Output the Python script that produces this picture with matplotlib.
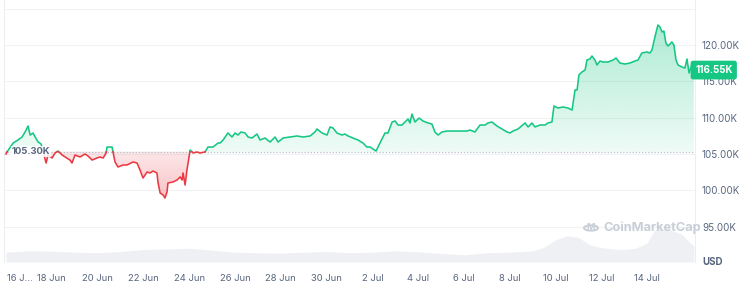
import numpy as np
import matplotlib
matplotlib.use("Agg")
import matplotlib.pyplot as plt
import matplotlib.transforms as mtransforms
from matplotlib.path import Path
from matplotlib.patches import Circle
from matplotlib.colors import to_rgb

plt.rcParams['font.family'] = ['Inter', 'DejaVu Sans']

# ---- data (days since 16 Jun 00:00, price in thousand USD) ----
days = [0.00, 0.04, 0.31, 0.52, 0.70, 0.83, 0.96, 1.05, 1.18, 1.27, 1.40, 1.53, 1.62, 1.75, 1.83,
        2.01, 2.14, 2.27, 2.45, 2.58, 2.79, 2.88, 3.01, 3.23, 3.45, 3.58, 3.76, 3.97, 4.10, 4.24,
        4.37, 4.41, 4.63, 4.67, 4.76, 4.89, 5.11, 5.28, 5.55, 5.72, 5.85, 5.98, 6.16, 6.29, 6.42,
        6.59, 6.64, 6.73, 6.86, 6.94, 7.03, 7.07, 7.29, 7.47, 7.60, 7.69, 7.73, 7.82, 7.90, 7.95,
        8.04, 8.17, 8.34, 8.47, 8.69, 8.82, 9.04, 9.26, 9.35, 9.48, 9.69, 9.87, 10.00, 10.13, 10.26,
        10.44, 10.57, 10.74, 10.96, 11.09, 11.31, 11.53, 11.75, 11.88, 12.10, 12.40, 12.71, 12.97,
        13.28, 13.49, 13.58, 13.80, 14.02, 14.15, 14.28, 14.45, 14.67, 14.80, 14.94, 15.15, 15.37,
        15.59, 15.76, 15.90, 16.03, 16.16, 16.33, 16.55, 16.68, 16.86, 16.99, 17.12, 17.29, 17.42,
        17.56, 17.64, 17.73, 17.86, 18.04, 18.21, 18.43, 18.60, 18.73, 18.87, 19.04, 19.26, 19.52,
        19.83, 20.13, 20.26, 20.48, 20.70, 20.92, 21.05, 21.22, 21.44, 21.66, 21.88, 22.01, 22.14,
        22.36, 22.67, 22.80, 22.97, 23.10, 23.32, 23.54, 23.67, 23.84, 23.93, 24.11, 24.32, 24.54,
        24.72, 24.85, 24.94, 25.02, 25.15, 25.29, 25.37, 25.50, 25.59, 25.72, 25.81, 25.94, 26.07,
        26.29, 26.51, 26.64, 26.81, 27.03, 27.25, 27.47, 27.60, 27.77, 27.99, 28.12, 28.21, 28.34,
        28.47, 28.56, 28.65, 28.73, 28.82, 28.91, 29.08, 29.17, 29.26, 29.35, 29.52, 29.65, 29.74,
        29.83, 29.96, 30.04]
price = [105.00, 105.28, 106.51, 106.93, 107.34, 108.03, 108.85, 107.61, 107.89, 107.34, 106.65,
         106.38, 105.28, 103.76, 104.86, 104.45, 105.14, 105.41, 104.86, 104.59, 104.17, 103.76,
         104.86, 104.59, 105.00, 104.72, 104.17, 104.45, 104.59, 104.45, 105.14, 105.96, 105.96,
         105.28, 103.90, 103.21, 103.49, 103.49, 103.90, 103.76, 102.80, 101.70, 102.52, 102.39,
         102.66, 102.39, 101.01, 99.63, 99.36, 98.95, 99.77, 101.01, 101.15, 101.42, 101.84, 101.42,
         102.39, 100.73, 102.80, 103.76, 105.55, 105.14, 105.28, 105.14, 105.28, 105.96, 105.96,
         106.51, 106.51, 106.93, 107.89, 107.34, 107.89, 107.61, 108.03, 107.89, 107.34, 107.20,
         107.75, 106.93, 107.20, 106.65, 107.34, 106.65, 107.20, 107.34, 107.48, 107.34, 107.48,
         108.03, 108.44, 107.89, 107.61, 108.72, 108.58, 107.89, 107.61, 107.75, 107.48, 107.20,
         106.93, 106.51, 105.96, 105.96, 105.69, 105.41, 106.51, 107.89, 107.89, 109.40, 109.54,
         108.99, 108.99, 109.40, 109.82, 109.27, 110.50, 109.40, 109.95, 109.54, 109.27, 109.13,
         108.03, 107.61, 108.03, 108.16, 108.16, 108.16, 108.16, 108.30, 108.03, 108.99, 108.99,
         109.27, 109.40, 108.85, 108.44, 108.03, 107.89, 108.16, 108.44, 109.27, 108.72, 109.27,
         108.72, 108.99, 108.99, 109.27, 109.40, 111.60, 111.33, 111.47, 111.33, 111.05, 113.81,
         113.81, 115.87, 116.28, 116.56, 117.93, 118.07, 118.48, 117.93, 117.25, 117.80, 117.66,
         117.66, 117.93, 118.21, 117.52, 117.38, 117.52, 117.80, 117.93, 118.90, 119.04, 118.90,
         119.31, 121.10, 122.75, 122.48, 121.79, 121.92, 120.27, 119.86, 120.41, 120.00, 117.93,
         117.25, 116.97, 116.83, 118.07, 116.15, 117.38, 116.55]

baseline = 105.30
current = 116.55

vol_days = [0, 1, 2, 3, 4, 5, 6, 7, 8, 9, 10, 11, 12, 13, 14, 15, 16, 17, 18, 19, 20, 21, 22, 23,
            23.5, 24, 24.5, 25, 25.5, 26, 26.5, 27, 27.5, 28, 28.3, 28.6, 29, 29.5, 30.04]
volume = [30, 34, 33, 30, 28, 32, 38, 40, 42, 36, 30, 28, 27, 30, 32, 28, 30, 34, 31, 26, 22, 28,
          30, 34, 45, 68, 80, 75, 52, 44, 40, 38, 42, 58, 95, 102, 98, 85, 48]

yticks = [95, 100, 105, 110, 115, 120]
xtick_days = [2, 4, 6, 8, 10, 12, 14, 16, 18, 20, 22, 24, 26, 28]
xtick_labels = ["18 Jun", "20 Jun", "22 Jun", "24 Jun", "26 Jun", "28 Jun", "30 Jun",
                "2 Jul", "4 Jul", "6 Jul", "8 Jul", "10 Jul", "12 Jul", "14 Jul"]

GREEN = "#16c784"
RED = "#ea3943"
TXT = "#58667e"

W, H = 741, 282
fig = plt.figure(figsize=(W / 100, H / 100), dpi=100)
ax = fig.add_axes([4 / W, 20 / H, 691 / W, 262 / H])
ax.set_xlim(-0.09, 30.09)
ax.set_ylim(90.14, 126.19)

# volume on twin axis
axv = ax.twinx()
axv.set_ylim(0, 800)
axv.fill_between(vol_days, volume, 0, color="#eef0f4", lw=0, zorder=0)
axv.set_yticks([])
for s in axv.spines.values():
    s.set_visible(False)
ax.set_zorder(axv.get_zorder() + 1)
ax.patch.set_visible(False)

# grid
for v in yticks + [125]:
    ax.axhline(v, color="#f1f2f4", lw=0.8, zorder=0)

# insert crossing points
t = np.array(days, float)
p = np.array(price, float)
tt, pp = [t[0]], [p[0]]
for i in range(1, len(t)):
    a, b = p[i - 1] - baseline, p[i] - baseline
    if a * b < 0:
        tc = t[i - 1] + (t[i] - t[i - 1]) * a / (a - b)
        tt.append(tc)
        pp.append(baseline)
    tt.append(t[i])
    pp.append(p[i])
tt, pp = np.array(tt), np.array(pp)

def gradient_fill(where, color, a_base, a_far, y_far):
    coll = ax.fill_between(tt, pp, baseline, where=where, facecolor="none", lw=0)
    paths = coll.get_paths()
    if not paths:
        return
    path = Path.make_compound_path(*paths)
    rgb = to_rgb(color)
    n = 256
    y0, y1 = sorted([baseline, y_far])
    alphas = np.linspace(0, 1, n)
    if y_far > baseline:
        al = a_base + (a_far - a_base) * alphas
    else:
        al = a_far + (a_base - a_far) * alphas
    img = np.zeros((n, 2, 4))
    img[:, :, 0], img[:, :, 1], img[:, :, 2] = rgb
    img[:, :, 3] = al[:, None]
    im = ax.imshow(img, extent=[tt[0], tt[-1], y0, y1], origin="lower", aspect="auto",
                   interpolation="bilinear", zorder=1)
    im.set_clip_path(path, transform=ax.transData)

gradient_fill(pp >= baseline, GREEN, 0.07, 0.35, pp.max())
gradient_fill(pp <= baseline, RED, 0.12, 0.30, pp.min())
ax.set_xlim(-0.09, 30.09)
ax.set_ylim(90.14, 126.19)

up = np.where(pp >= baseline, pp, np.nan)
dn = np.where(pp <= baseline, pp, np.nan)
ax.plot(tt, up, color=GREEN, lw=1.15, zorder=3, solid_joinstyle="round")
ax.plot(tt, dn, color=RED, lw=1.15, zorder=3, solid_joinstyle="round")

# baseline dotted
ax.axhline(baseline, color="#b8bfcc", lw=0.9, ls=(0, (1, 1.5)), zorder=2)
ax.text(0.25, baseline, "105.30K", color=TXT, fontsize=6.8, fontweight="bold",
        ha="left", va="center", zorder=4,
        bbox=dict(boxstyle="square,pad=0.12", fc="white", ec="none", alpha=0.85))

# axes styling
for k in ["top", "bottom"]:
    ax.spines[k].set_visible(False)
for k in ["left", "right"]:
    ax.spines[k].set_color("#eceef2")
    ax.spines[k].set_linewidth(0.8)
ax.yaxis.tick_right()
ax.set_yticks(yticks)
ax.set_yticklabels([f"{v:.2f}K" for v in yticks])
ax.tick_params(axis="y", length=0, pad=5, labelsize=7, labelcolor=TXT)
ax.set_xticks(xtick_days)
ax.set_xticklabels(xtick_labels)
ax.tick_params(axis="x", length=0, pad=8.5, labelsize=6.8, labelcolor=TXT)
ax.text(0.05, -0.062, "16 J...", transform=mtransforms.blended_transform_factory(ax.transData, ax.transAxes),
        ha="left", va="center", fontsize=6.8, color=TXT)

# current price tag
trans = mtransforms.blended_transform_factory(ax.transAxes, ax.transData)
ax.text(1.0, current, "116.55K", transform=trans, ha="left", va="center",
        fontsize=7, fontweight="bold", color="white", zorder=10, clip_on=False,
        bbox=dict(boxstyle="round,pad=0.45,rounding_size=0.25", fc=GREEN, ec="none"))

fig.text(713 / W, 1 - 262 / H, "USD", ha="center", va="center", fontsize=7,
         fontweight="bold", color=TXT)

# watermark
wm = "#c9ced7"
fig.text(603 / W, 1 - 228 / H, "CoinMarketCap", ha="left", va="center", fontsize=9.2,
         color=wm, fontweight="bold")
fig.patches.append(Circle((591 / W, 1 - 228 / H), 7 / W, transform=fig.transFigure,
                          fill=False, ec=wm, lw=1.4))
fig.text(591 / W, 1 - 228 / H, "M", ha="center", va="center", fontsize=6.5, color=wm,
         fontweight="bold")

fig.savefig("out.png", dpi=100)
